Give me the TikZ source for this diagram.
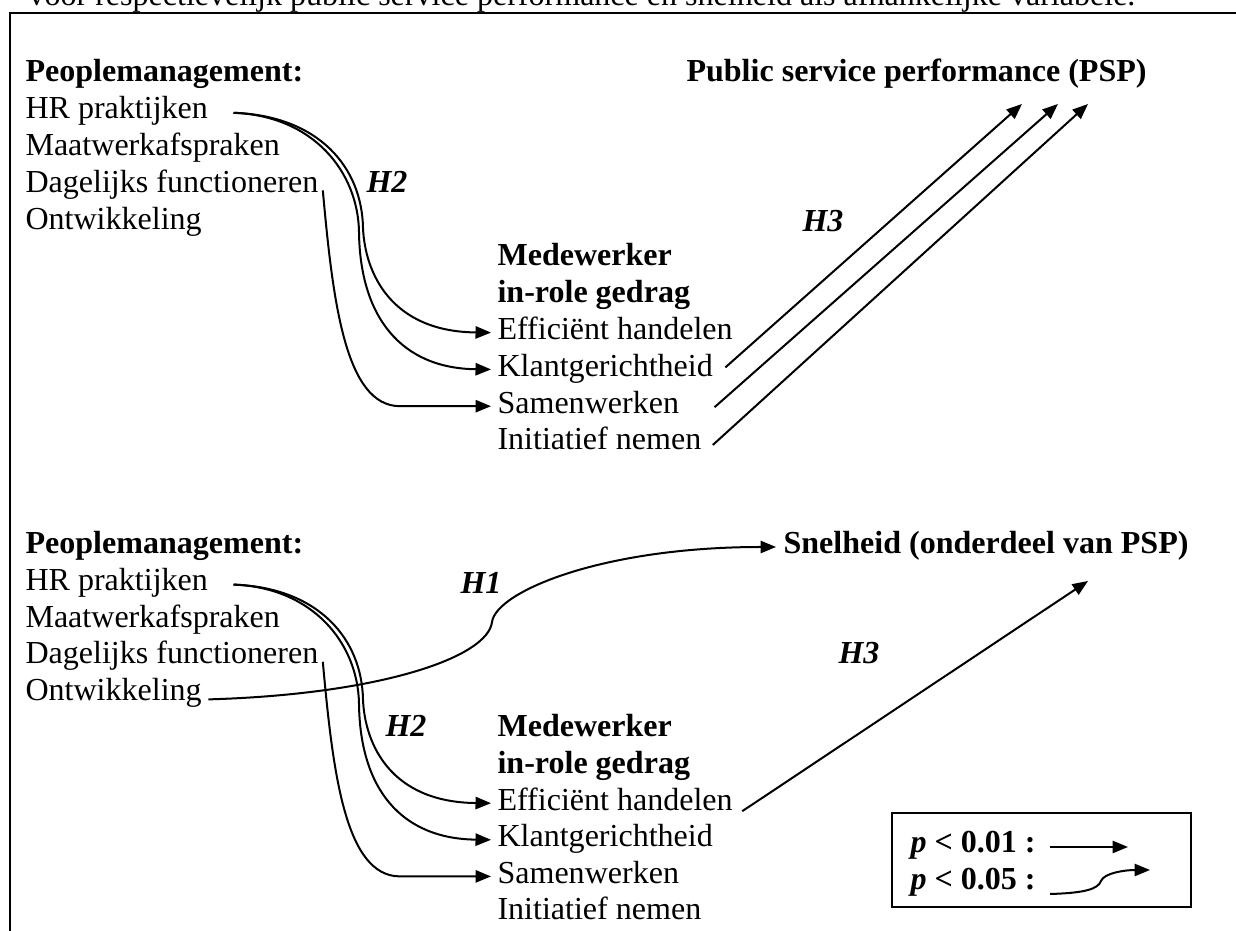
\documentclass[tikz,border=0pt]{standalone}
\usepackage{fontspec}
\setmainfont{Liberation Serif}
\usetikzlibrary{arrows.meta,calc}
\begin{document}
\begin{tikzpicture}[x=0.3745pt,y=-0.3745pt,
  txt/.style={anchor=base west,inner sep=0pt,font=\fontsize{12}{14}\selectfont},
  btxt/.style={anchor=base west,inner sep=0pt,font=\fontsize{12}{14}\selectfont\bfseries},
  hyp/.style={anchor=base west,inner sep=0pt,font=\fontsize{12}{14}\selectfont\bfseries\itshape},
  conn/.style={line width=0.75pt,-{Triangle[length=5.8pt,width=4.6pt]}},
  frame/.style={line width=0.8pt},
  legbox/.style={line width=0.45pt}]
\useasboundingbox (0,0) rectangle (1236,931);
% caption line (cut off at top)
\node[txt] (cap) at (28,6) {voor respectievelijk public service performance en snelheid als afhankelijke variabele.};
\draw[frame] (10,945) -- (10,13) -- (1250,13);

% ---------- top group ----------
\node[btxt] (pm1) at (25,82) {Peoplemanagement:};
\node[txt] (hr1) at (25,118.8) {HR praktijken};
\node[txt] (ma1) at (25,155.6) {Maatwerkafspraken};
\node[txt] (da1) at (25,192.4) {Dagelijks functioneren};
\node[txt] (on1) at (25,229.2) {Ontwikkeling};
\node[btxt] (me1) at (497,266) {Medewerker};
\node[btxt] (ir1) at (497,302.8) {in-role gedrag};
\node[txt] (ef1) at (497,339.6) {Efficiënt handelen};
\node[txt] (kl1) at (497,376.4) {Klantgerichtheid};
\node[txt] (sa1) at (497,413.2) {Samenwerken};
\node[txt] (in1) at (497,450) {Initiatief nemen};
\node[btxt] (psp) at (686,82) {Public service performance (PSP)};
\node[hyp] (h2a) at (366,192.4) {H2};
\node[hyp] (h3a) at (802,232) {H3};

\coordinate (hr1s) at ($(hr1.base east)+(25,-6)$);
\coordinate (da1s) at ($(da1.base east)+(4,-2)$);
\coordinate (ef1e) at ($(ef1.base west)+(-6,-7)$);
\coordinate (kl1e) at ($(kl1.base west)+(-6,-7)$);
\coordinate (sa1e) at ($(sa1.base west)+(-6,-7)$);
\draw[conn] (hr1s) .. controls +(86,3) and +(-1,-60) .. (363,228) .. controls +(2,45) and +(-100,-1) .. (ef1e);
\draw[conn] (hr1s) .. controls +(80,3) and +(-1,-60) .. (359,232) .. controls +(1,85) and +(-90,-1) .. (kl1e);
\draw[conn] (da1s) .. controls +(10,110) and +(-55,0) .. (400,406.2) -- (sa1e);

\coordinate (kl1s) at ($(kl1.base east)+(12,-9)$);
\coordinate (sa1s) at ($(sa1.base east)+(35,-6)$);
\coordinate (in1s) at ($(in1.base east)+(11,-5)$);
\coordinate (pspa) at (1022,104);
\coordinate (pspb) at (1058,104);
\coordinate (pspc) at (1088,104);
\draw[conn] (kl1s) -- (pspa);
\draw[conn] (sa1s) -- (pspb);
\draw[conn] (in1s) -- (pspc);

% ---------- bottom group ----------
\node[btxt] (pm2) at (25,554) {Peoplemanagement:};
\node[txt] (hr2) at (25,590.6) {HR praktijken};
\node[txt] (ma2) at (25,627.2) {Maatwerkafspraken};
\node[txt] (da2) at (25,663.8) {Dagelijks functioneren};
\node[txt] (on2) at (25,700.4) {Ontwikkeling};
\node[btxt] (me2) at (497,737) {Medewerker};
\node[btxt] (ir2) at (497,773.6) {in-role gedrag};
\node[txt] (ef2) at (497,810.2) {Efficiënt handelen};
\node[txt] (kl2) at (497,846.8) {Klantgerichtheid};
\node[txt] (sa2) at (497,883.4) {Samenwerken};
\node[txt] (in2) at (497,920) {Initiatief nemen};
\node[btxt] (snel) at (783,554) {Snelheid (onderdeel van PSP)};
\node[hyp] (h1) at (460,594) {H1};
\node[hyp] (h2b) at (385,737) {H2};
\node[hyp] (h3b) at (838,664) {H3};

\coordinate (hr2s) at ($(hr2.base east)+(25,-6)$);
\coordinate (da2s) at ($(da2.base east)+(4,-2)$);
\coordinate (ef2e) at ($(ef2.base west)+(-6,-7)$);
\coordinate (kl2e) at ($(kl2.base west)+(-6,-7)$);
\coordinate (sa2e) at ($(sa2.base west)+(-6,-7)$);
\draw[conn] (hr2s) .. controls +(86,3) and +(-1,-60) .. (363,699.8) .. controls +(2,45) and +(-100,-1) .. (ef2e);
\draw[conn] (hr2s) .. controls +(80,3) and +(-1,-60) .. (359,703.8) .. controls +(1,85) and +(-90,-1) .. (kl2e);
\draw[conn] (da2s) .. controls +(10,110) and +(-55,0) .. (400,876.4) -- (sa2e);

\coordinate (on2s) at ($(on2.base east)+(6,-1)$);
\coordinate (snele) at ($(snel.base west)+(-7,-7)$);
\draw[conn] (on2s) .. controls +(173,-5) and +(-4,35) .. (492,622) .. controls +(4,-30) and +(-175,0) .. (snele);

\coordinate (ef2s) at ($(ef2.base east)+(9,1)$);
\coordinate (snelb) at (1088,581);
\draw[conn] (ef2s) -- (snelb);

% ---------- legend ----------
\draw[legbox] (892,813) rectangle (1191,907);
\begin{scope}
\clip (892,813) rectangle (1191,897);
\node[btxt] (l1) at (910,853) {\textit{p} < 0.01 :};
\node[btxt] (l2) at (910,890) {\textit{p} < 0.05 :};
\end{scope}
\coordinate (l1s) at ($(l1.base east)+(14,-6)$);
\coordinate (l1e) at (1128,847);
\coordinate (l2s) at ($(l2.base east)+(14,4)$);
\coordinate (l2e) at (1150,870);
\draw[conn] (l1s) -- (l1e);
\draw[conn] (l2s) .. controls +(35,-1) and +(-3,8) .. (1101,881) .. controls +(3,-8) and +(-25,0) .. (l2e);
\end{tikzpicture}
\end{document}
